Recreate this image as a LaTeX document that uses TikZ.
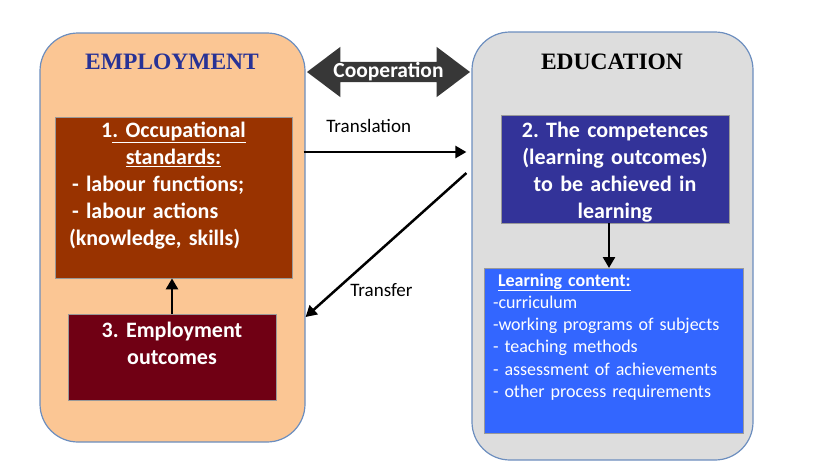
\documentclass[tikz,border=0pt]{standalone}
\usepackage{fontspec}
\setmainfont{Carlito}
\newfontfamily\titlefont{Liberation Serif}
\usetikzlibrary{arrows.meta,shapes.arrows}
\frenchspacing

\definecolor{emppeach}{RGB}{251,198,148}
\definecolor{edugray}{RGB}{221,221,221}
\definecolor{panelline}{RGB}{108,142,191}
\definecolor{empblue}{RGB}{40,50,150}
\definecolor{coopgray}{RGB}{55,55,55}
\definecolor{stdbrown}{RGB}{153,51,0}
\definecolor{outcred}{RGB}{112,0,20}
\definecolor{compblue}{RGB}{51,51,153}
\definecolor{contblue}{RGB}{51,102,255}

\begin{document}
\begin{tikzpicture}[x=1pt,y=-1pt,>={Triangle[length=11pt,width=12pt]}]
    \useasboundingbox (0,0) rectangle (827,466);

        \begin{scope}[every node/.style={draw=panelline,line width=1.2pt,rounded corners=38pt,inner sep=0pt}]
            \node[fill=emppeach,minimum width=265pt,minimum height=409pt] (emp) at (172.5,237.5) {};
            \node[fill=edugray,minimum width=281pt,minimum height=428pt] (edu) at (612.5,246) {};
        \end{scope}

        \begin{scope}[every node/.style={font=\titlefont\bfseries\fontsize{23.5}{28}\selectfont}]
            \node[text=empblue] (emptitle) at (172,62) {EMPLOYMENT};
            \node[text=black] (edutitle) at (612,62) {EDUCATION};
        \end{scope}

        \node[double arrow,fill=coopgray,text=white,font=\bfseries\fontsize{21.5}{25}\selectfont,
              minimum height=163pt,double arrow head extend=15pt,double arrow tip angle=74,
              inner xsep=0pt,inner ysep=0.5pt,text height=15pt,text depth=4pt] (coop) at (388.5,72) {Cooperation};

        \begin{scope}[every node/.style={anchor=north,inner ysep=0pt,draw=white!60!black,line width=0.4pt,text=white,
                                         font=\bfseries\fontsize{22}{27}\selectfont}]
            \node[fill=stdbrown,align=left,text width=209pt,inner xsep=14pt,text height=20pt,text depth=141pt] (std) at (173.5,117)
                {\makebox[\linewidth]{1\underline{. Occupational}}\\
                 \makebox[\linewidth]{\underline{standards:}}\\
                 \hspace*{3pt}- labour functions;\\
                 \hspace*{3pt}- labour actions\\
                 (knowledge, skills)};
            \node[fill=outcred,align=center,text width=208pt,inner xsep=0pt,text height=23pt,text depth=63pt] (outc) at (172,314)
                {3. Employment\\ outcomes};
            \node[fill=compblue,align=center,text width=228pt,inner xsep=0pt,text height=22pt,text depth=86pt] (comp) at (615,115)
                {2. The competences\\ (learning outcomes)\\ to be achieved in\\ learning};
            \node[fill=contblue,align=left,text width=241pt,inner xsep=9pt,text height=18pt,text depth=147pt,
                  font=\fontsize{18}{22.2}\selectfont] (cont) at (613.5,268)
                {\hspace*{5pt}\textbf{\underline{Learning content:}}\\
                 -curriculum\\
                 -working programs of subjects\\
                 - teaching methods\\
                 - assessment of achievements\\
                 - other process requirements};
        \end{scope}

        \begin{scope}[every node/.style={inner sep=0pt,font=\fontsize{19}{23}\selectfont}, every edge/.style={draw=black,line width=2.5pt}]
            \path [->] ([xshift=-2pt,yshift=85.5pt]emp.east) edge node[pos=0.4,above=18pt] {Translation} ([xshift=-5pt,yshift=85.5pt]emp.east -| edu.west);
            \path [->] ([xshift=-5pt,yshift=73pt]edu.west) edge node[pos=0.81,right=13pt] {Transfer} ([yshift=-79.5pt]emp.east);
            \path [->] (outc.north) edge (outc.north |- std.south);
            \path [->] ([xshift=-6pt]comp.south) edge ([xshift=-6pt]comp.south |- cont.north);
        \end{scope}

\end{tikzpicture}
\end{document}
